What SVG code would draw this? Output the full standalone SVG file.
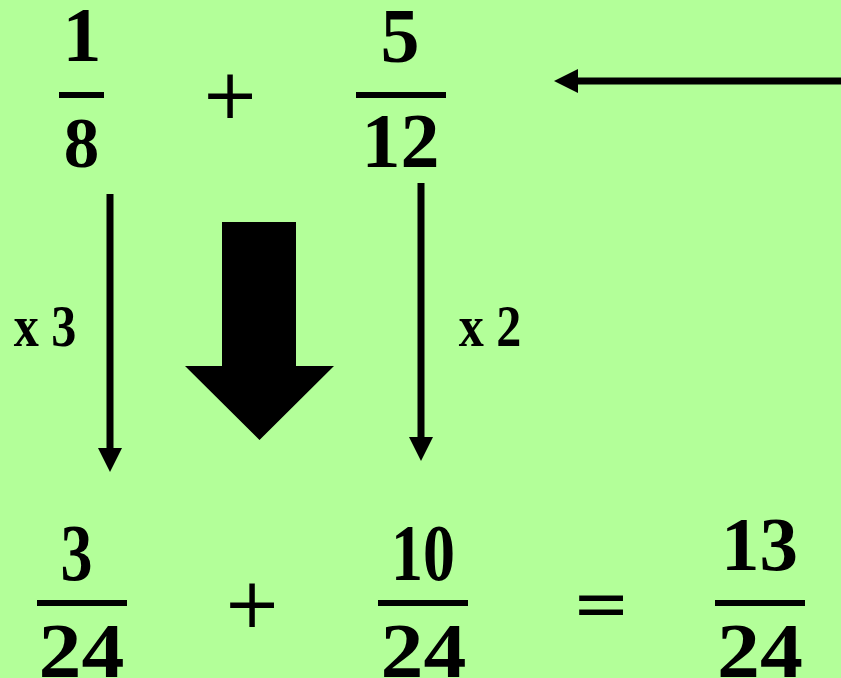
<svg xmlns="http://www.w3.org/2000/svg" width="841" height="678" viewBox="0 0 841 678">
<style>
.num{font-family:"Liberation Serif",serif;font-weight:bold;font-size:78px;fill:#000;text-anchor:middle}
.cm{font-family:"Liberation Serif",serif;font-weight:bold;font-size:80px;fill:#000;text-anchor:middle}
.lbl{font-family:"Liberation Serif",serif;font-weight:bold;font-size:59px;fill:#000;text-anchor:middle}
.op{font-family:"DejaVu Serif",serif;font-size:70px;fill:#000;text-anchor:middle}
.bar{fill:#000}
.ln{stroke:#000;stroke-width:7;fill:none}
</style>
<defs>
<marker id="ah" markerUnits="userSpaceOnUse" markerWidth="24" markerHeight="24" refX="0" refY="12" orient="auto" viewBox="0 0 24 24">
<path d="M0,0 L24,12 L0,24 Z" fill="#000"/>
</marker>
</defs>
<rect width="841" height="678" fill="#b3ff99"/>

<g id="frac-1-8">
<text class="num" x="82" y="61">1</text>
<rect class="bar" x="59" y="92" width="45" height="6"/>
<text class="num" style="font-size:71px" x="81.5" y="167">8</text>
</g>
<g id="plus-top">
<text class="op" x="230" y="118">+</text>
</g>
<g id="frac-5-12">
<text class="num" x="400" y="62">5</text>
<rect class="bar" x="356" y="92" width="90" height="6"/>
<text class="num" x="400.5" y="167">12</text>
</g>

<g id="frac-3-24">
<text class="cm" transform="translate(76.5,580) scale(0.8,1)">3</text>
<rect class="bar" x="37" y="600" width="90" height="6"/>
<text class="num" transform="translate(81.5,677) scale(1.1,1)">24</text>
</g>
<g id="plus-bottom">
<text class="op" x="252" y="627">+</text>
</g>
<g id="frac-10-24">
<text class="cm" transform="translate(423,580) scale(0.8,1)">10</text>
<rect class="bar" x="378" y="600" width="90" height="6"/>
<text class="num" transform="translate(423.5,677) scale(1.1,1)">24</text>
</g>
<g id="equals">
<text class="op" x="601" y="627">=</text>
</g>
<g id="frac-13-24">
<text class="num" style="font-size:77px" x="759.5" y="570">13</text>
<rect class="bar" x="715" y="600" width="90" height="6"/>
<text class="num" transform="translate(760,677) scale(1.1,1)">24</text>
</g>

<g id="label-x3">
<text class="lbl" transform="translate(45,346) scale(0.85,1)">x 3</text>
</g>
<g id="label-x2">
<text class="lbl" transform="translate(490,346) scale(0.85,1)">x 2</text>
</g>

<g id="connectors">
<line class="ln" x1="110" y1="194" x2="110" y2="448" marker-end="url(#ah)"/>
<line class="ln" x1="421" y1="183" x2="421" y2="437" marker-end="url(#ah)"/>
<line class="ln" x1="841" y1="81" x2="578" y2="81" marker-end="url(#ah)"/>
<path id="big-arrow" d="M222,222 L296,222 L296,366 L334,366 L259.5,440 L185,366 L222,366 Z" fill="#000"/>
</g>
</svg>
